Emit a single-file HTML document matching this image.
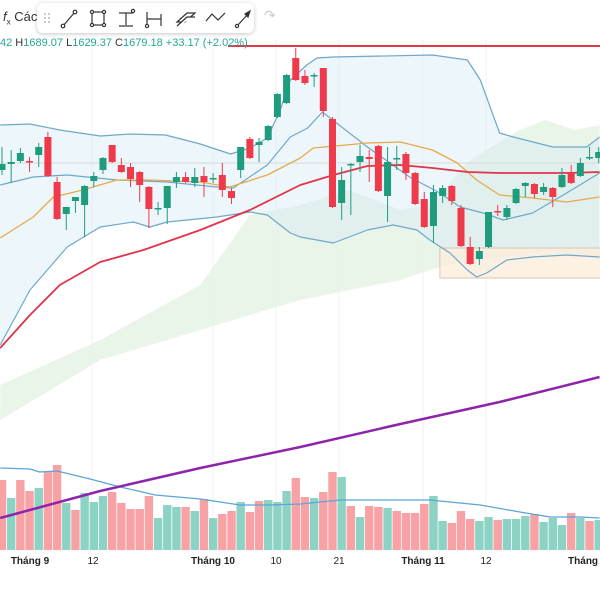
<!DOCTYPE html>
<html><head><meta charset="utf-8">
<style>
html,body{margin:0;padding:0;background:#fff;width:600px;height:600px;overflow:hidden;font-family:"Liberation Sans","Noto Sans CJK SC",sans-serif;}
#wrap{position:relative;width:600px;height:600px;}
svg{position:absolute;left:0;top:0;}
#toolbar{position:absolute;left:37px;top:3px;width:217px;height:30px;background:#fff;border-radius:6px;box-shadow:0 1px 5px rgba(0,0,0,0.22);}
#fx{position:absolute;left:3px;top:9px;font-size:13px;color:#333;}
#legend{position:absolute;left:0;top:37px;font-size:11px;color:#26a69a;white-space:nowrap;}
#legend b{font-weight:normal;color:#333;}
.xl{position:absolute;top:556px;font-size:10px;color:#222;transform:translateX(-50%);white-space:nowrap;}
.xl.m{font-weight:bold;}
</style></head>
<body>
<div id="wrap">
<svg id="chart" width="600" height="600"></svg>
<div id="fx"><i>f</i><sub style="font-size:8px">x</sub> Các</div>
<div id="toolbar">
<svg width="217" height="30" style="position:absolute;left:0;top:0">
<g fill="#bbb"><circle cx="8" cy="11" r="1"/><circle cx="12" cy="11" r="1"/><circle cx="8" cy="15" r="1"/><circle cx="12" cy="15" r="1"/><circle cx="8" cy="19" r="1"/><circle cx="12" cy="19" r="1"/></g>
<g stroke="#333" stroke-width="1.2" fill="#fff">
<g><line x1="26" y1="23" x2="38" y2="9"/><circle cx="26" cy="23" r="1.8"/><circle cx="38" cy="9" r="1.8"/></g>
<g><rect x="55" y="9" width="12" height="13"/><circle cx="55" cy="9" r="1.6"/><circle cx="67" cy="9" r="1.6"/><circle cx="55" cy="22" r="1.6"/><circle cx="67" cy="22" r="1.6"/></g>
<g><line x1="82" y1="10" x2="96" y2="10"/><line x1="89" y1="10" x2="89" y2="22"/><line x1="82" y1="23" x2="96" y2="23"/><circle cx="96" cy="8" r="1.6"/></g>
<g><line x1="110" y1="9" x2="110" y2="23"/><line x1="110" y1="16" x2="124" y2="16"/><line x1="124" y1="11" x2="124" y2="23"/><circle cx="110" cy="23" r="1.6"/></g>
<g><path d="M140 19 L150 10 L158 10 L148 19 Z"/><path d="M140 23 L150 14 L158 14"/></g>
<g fill="none"><polyline points="169,18 175,11 181,17 188,10"/></g>
<g><line x1="200" y1="23" x2="212" y2="10"/><circle cx="200" cy="23" r="1.6"/><path d="M213 8 L208 11 L211 14 Z" fill="#333"/></g>
</g></svg>
</div>
<div style="position:absolute;left:264px;top:7px;font-size:14px;color:#ccc">↷</div>
<div id="legend">42 <b>H</b>1689.07 <b>L</b>1629.37 <b>C</b>1679.18 +33.17 (+2.02%)</div>
<div class="xl m" style="left:30px">Tháng 9</div>
<div class="xl" style="left:93px">12</div>
<div class="xl m" style="left:213px">Tháng 10</div>
<div class="xl" style="left:276px">10</div>
<div class="xl" style="left:339px">21</div>
<div class="xl m" style="left:423px">Tháng 11</div>
<div class="xl" style="left:486px">12</div>
<div class="xl m" style="left:590px">Tháng 12</div>
</div>
<script>
const opens=[1590,1596,1599,1599,1605,1623,1578,1546,1559,1555,1579,1590,1615,1595,1593,1588,1573,1551,1552,1578,1583,1577,1584,1581,1585,1569,1590,1621,1615,1620,1643,1657,1702,1684,1684,1692,1641,1557,1595,1598,1603,1614,1564,1601,1606,1587,1561,1534,1564,1574,1552,1513,1501,1513,1549,1543,1557,1574,1576,1568,1572,1573,1587,1584,1602,1602];
const highs=[1613,1610,1612,1603,1617,1628,1583,1553,1563,1575,1588,1603,1615,1602,1597,1589,1574,1558,1574,1588,1588,1592,1593,1587,1597,1572,1613,1623,1622,1635,1667,1686,1712,1690,1687,1692,1643,1593,1597,1615,1610,1615,1613,1614,1608,1588,1568,1575,1575,1575,1555,1523,1513,1548,1555,1555,1572,1578,1577,1577,1573,1592,1595,1602,1613,1613];
const lows=[1585,1577,1597,1588,1593,1583,1540,1530,1547,1523,1573,1586,1597,1587,1573,1558,1532,1545,1536,1572,1577,1573,1563,1577,1563,1556,1582,1601,1598,1619,1642,1656,1679,1675,1673,1643,1552,1540,1545,1588,1578,1568,1538,1590,1580,1555,1532,1517,1557,1555,1513,1495,1495,1512,1544,1540,1556,1563,1562,1565,1553,1572,1576,1583,1600,1597];
const closes=[1596,1598,1607,1598,1613,1584,1541,1553,1563,1574,1584,1602,1598,1588,1581,1575,1551,1552,1574,1583,1578,1583,1578,1582,1570,1562,1613,1602,1618,1634,1666,1685,1680,1677,1685,1649,1553,1580,1596,1604,1601,1569,1598,1602,1587,1556,1533,1568,1572,1559,1514,1496,1509,1548,1548,1552,1571,1577,1566,1573,1563,1585,1577,1597,1603,1608];
const volumes=[7.0,5.2,7.0,5.9,6.2,7.8,8.5,4.7,4.0,5.7,4.8,5.4,5.8,4.7,4.1,4.1,5.4,3.2,4.5,4.3,4.3,3.9,5.1,3.2,3.6,3.9,4.8,3.8,4.9,5.0,4.8,5.9,7.2,5.3,5.2,5.8,7.8,7.3,4.4,3.3,4.4,4.3,4.2,3.9,3.7,3.7,4.6,5.4,2.9,2.7,3.9,3.1,2.9,3.3,3.0,3.1,3.1,3.4,3.6,2.8,3.2,2.5,3.7,3.2,2.9,3.0];
const volUp="RGRRGRRGRGGGRRRRRGGGRGRGRRGRRGGGRRGRRGRGRRGRRRRGGRRRGGRGGGRGGGRGRG";
const volMaIdx=[-0.2,3.05,4.1,6.0,9.6,12.9,16.7,21.6,25.9,29.2,32.5,36.8,43.4,46.6,52.1,56.4,59.7,63.0,65.1];
const volMaVal=[8.2,8.1,7.8,7.9,7.1,6.3,5.5,5.1,4.5,4.5,4.6,5.0,5.0,5.0,4.5,3.8,3.3,3.3,3.2];
const upIdx=[-0.2,3.05,6.3,10.7,13.9,17.8,21.6,24.9,27,28.9,30.3,31.4,33.2,34.3,36.1,46.9,50.7,52.1,54.2,55.7,60,63.7,65.1];
const upVal=[1635,1636,1630,1624,1626,1625,1616,1606,1612,1622,1650,1680,1695,1702,1703,1705,1700,1680,1627,1623,1613,1613,1623];
const loIdx=[-0.2,3.05,7.1,10.7,14.3,16.1,18,23.4,27,28.9,31.4,32.5,36.1,39.8,42.6,45.2,46.6,48.8,50.7,51.7,52.8,55,57.8,61.5,65.1];
const loVal=[1415,1470,1513,1533,1538,1533,1538,1543,1548,1545,1527,1523,1517,1530,1535,1530,1520,1507,1490,1483,1487,1500,1503,1505,1503];
const midIdx=[-0.2,3.4,7.1,12.5,18,23.4,25.2,28.9,31.4,33.3,34.9,39.8,44.4,47.7,49.9,52.4,54.6,57.8,61.5,65.1];
const midVal=[1575,1583,1585,1580,1578,1573,1572,1595,1623,1632,1648,1613,1583,1567,1553,1547,1540,1547,1567,1587];
const orIdx=[-0.2,3.4,5.6,8.8,12.5,16.1,21.6,24.8,28.9,32.5,33.9,39.8,43.4,46.9,49.6,51.7,54.2,57.8,61.5,65.1];
const orVal=[1522,1543,1563,1570,1580,1580,1578,1573,1585,1602,1612,1617,1618,1610,1597,1580,1565,1562,1558,1563];
const maIdx=[-0.2,3.05,6.3,10.7,15.4,21.6,27,32.5,36.1,39.8,43.4,46.9,50.7,54.2,61.5,65.1];
const maVal=[1412,1445,1475,1498,1510,1530,1550,1575,1585,1594,1595,1592,1588,1587,1587,1588];
const ma200Idx=[-0.2,10.7,21.6,32.5,43.4,54.2,65.1];
const ma200Val=[1242,1269,1292,1313,1336,1358,1383];
const cloudIdx=[-0.2,10.7,21.6,27,32.5,37.9,43.4,46.6,51,56.4,59.2,62.4,65.1];
const cloudTop=[1375,1420,1475,1545,1555,1570,1550,1555,1600,1630,1640,1630,1635];
const cloudBot=[1340,1400,1430,1445,1460,1470,1480,1490,1500,1505,1510,1505,1500];
const resistance=1714, lastPrice=1597;
const boxI0=47.7, boxI1=66, boxTop=1512, boxBot=1482;

const xOf=i=>2+9.18*i;
const yOf=p=>1760-p;
const vY=v=>550-v*10;
const NS="http://www.w3.org/2000/svg";
const svg=document.getElementById('chart');
function mk(tag,attrs,parent){const e=document.createElementNS(NS,tag);for(const k in attrs)e.setAttribute(k,attrs[k]);(parent||svg).appendChild(e);return e;}
function pts(I,V,f){return I.map((i,k)=>xOf(i).toFixed(1)+','+f(V[k]).toFixed(1));}

// grid
[92,213,276,339,423,486].forEach(x=>{const g=mk('line',{x1:x,y1:40,x2:x,y2:550,stroke:'#f0f2f5','stroke-width':1});

});
// cloud
let cp=pts(cloudIdx,cloudTop,yOf).concat(pts(cloudIdx,cloudBot,yOf).reverse());
const cl=mk('polygon',{points:cp.join(' '),fill:'#e3f1e3',opacity:0.75});


// bb fill
let bp=pts(upIdx,upVal,yOf).concat(pts(loIdx,loVal,yOf).reverse());
const bf=mk('polygon',{points:bp.join(' '),fill:'#d6eaf5',opacity:0.45});


// box
const bx=mk('rect',{x:xOf(boxI0),y:yOf(boxTop),width:xOf(boxI1)-xOf(boxI0),height:yOf(boxBot)-yOf(boxTop),fill:'#fdeedd',opacity:0.8,stroke:'#d9b8a0','stroke-width':1});


// price line
const pl=mk('line',{x1:0,x2:600,y1:yOf(lastPrice),y2:yOf(lastPrice),stroke:'#d8d8d8','stroke-width':1});


// volume
volumes.forEach((v,i)=>{const r=mk('rect',{x:xOf(i)-4.2,y:vY(v),width:8.4,height:550-vY(v),fill:volUp[i]==='G'?'#8dd3c5':'#f8a2a6'});

});
function line(I,V,f,color,w,name){const e=mk('polyline',{points:pts(I,V,f).join(' '),fill:'none',stroke:color,'stroke-width':w,'stroke-linejoin':'round'});

}
line(volMaIdx,volMaVal,vY,'#5aa5d6',1.2,'volume-ma-line');
line(upIdx,upVal,yOf,'#6fa8c8',1.2,'bollinger-upper');
line(loIdx,loVal,yOf,'#6fa8c8',1.2,'bollinger-lower');
line(midIdx,midVal,yOf,'#6fa8c8',1.2,'bollinger-inner');
line(orIdx,orVal,yOf,'#e8a94c',1.3,'ma-orange');
line(maIdx,maVal,yOf,'#e0344a',1.8,'ma-red');
line(ma200Idx,ma200Val,yOf,'#8e24aa',2.5,'ma-purple');
const rl=mk('line',{x1:228,x2:600,y1:yOf(resistance),y2:yOf(resistance),stroke:'#e0394a','stroke-width':2});


// candles
opens.forEach((o,i)=>{const c=closes[i],up=c>=o,col=up?'#1f9c7e':'#ef3a4b',x=xOf(i);
const g=mk('g',{});


mk('line',{x1:x,x2:x,y1:yOf(highs[i]),y2:yOf(lows[i]),stroke:col,'stroke-width':1},g);
const t=yOf(Math.max(o,c)),b=yOf(Math.min(o,c));
mk('rect',{x:x-3.5,y:t,width:7,height:Math.max(1.5,b-t),fill:col},g);});
</script>
</body></html>
